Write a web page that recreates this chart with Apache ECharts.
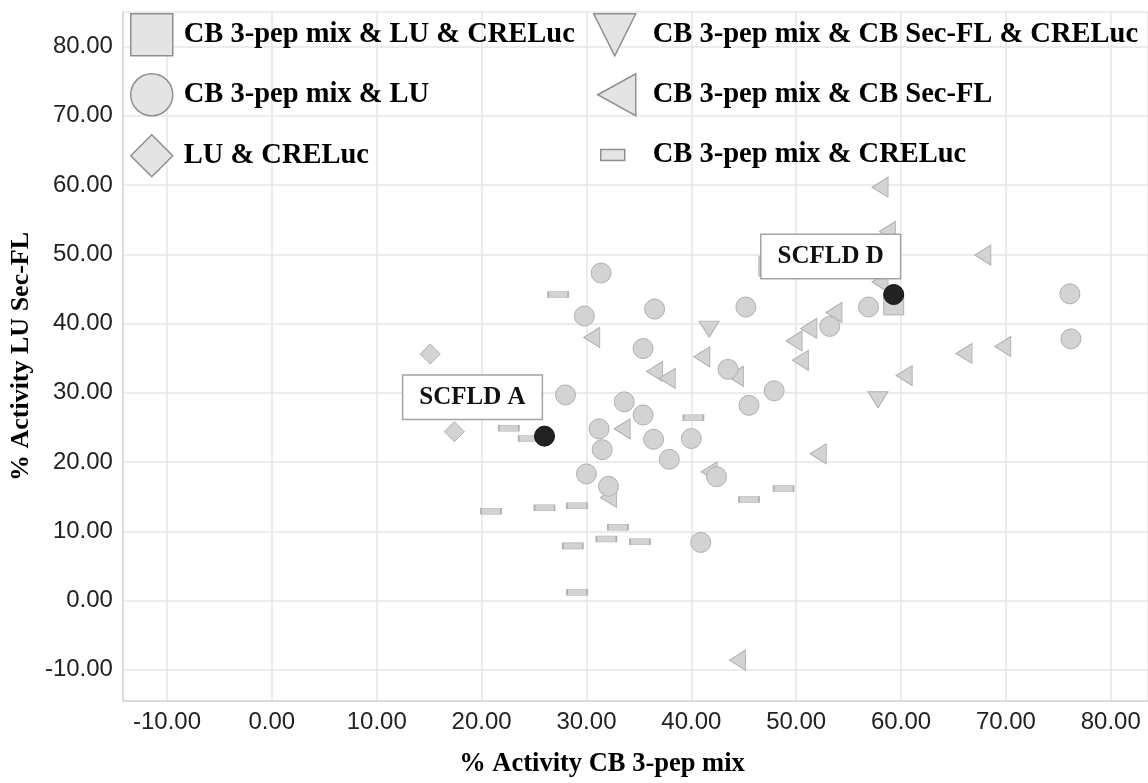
<!DOCTYPE html>
<html>
<head>
<meta charset="utf-8">
<title>SCFLD activity scatter</title>
<script src="https://cdn.jsdelivr.net/npm/echarts@6/dist/echarts.min.js"></script>
<style>
  html, body { margin: 0; padding: 0; background: #fff; }
  #chart { width: 1148px; height: 783px; }
</style>
</head>
<body>
<div id="chart"></div>
<script>
// [x, y] = [% Activity CB 3-pep mix, % Activity LU Sec-FL]
const cbLuCre = [[59.3, 42.7], [47.4, 48.3]]
const cbLu = [
  [31.4, 47.3], [29.8, 41.1], [36.5, 42.1], [45.2, 42.4], [43.5, 33.4],
  [45.5, 28.2], [47.9, 30.3], [40.0, 23.4], [42.4, 17.9], [56.9, 42.4],
  [53.2, 39.6], [76.1, 44.3], [76.2, 37.8], [28.0, 29.7], [35.4, 36.4],
  [33.6, 28.7], [35.4, 26.8], [31.2, 24.8], [36.4, 23.3], [31.5, 21.8],
  [37.9, 20.4], [30.0, 18.3], [32.1, 16.5], [40.9, 8.4]
]
const luCre = [[15.1, 35.6], [17.4, 24.4]]
const cbSecCre = [[41.7, 39.2], [57.8, 29.0]]
const cbSec = [
  [30.5, 38.0], [36.5, 33.1], [37.7, 32.1], [33.4, 24.8], [32.1, 14.9],
  [41.0, 35.2], [44.2, 32.4], [41.7, 18.6], [53.6, 41.6], [51.2, 39.3],
  [49.8, 37.5], [50.4, 34.7], [52.1, 21.2], [60.3, 32.5], [58.0, 59.7],
  [58.7, 53.3], [58.0, 46.0], [67.8, 49.9], [69.7, 36.7], [66.0, 35.7],
  [44.4, -8.6]
]
const cbCre = [
  [27.3, 44.2], [22.6, 24.9], [24.5, 23.4], [20.9, 12.9], [26.0, 13.4],
  [29.1, 13.7], [33.0, 10.6], [31.9, 8.9], [35.1, 8.5], [28.7, 7.9],
  [29.1, 1.2], [40.2, 26.4], [48.8, 16.2], [45.5, 14.6]
]
const scfldNames = ['SCFLD A', 'SCFLD D']
const scfldValues = [[26.0, 23.75], [59.3, 44.2]]
const scfldOffsets = [[-72, -39], [-63, -38]]

const serif = 'Liberation Serif'
const sans = 'Liberation Sans'
const fill = '#d3d3d3'
const edge = '#b0b0b0'

const chart = echarts.init(document.getElementById('chart'))

const markStyle = { color: fill, borderColor: edge, borderWidth: 1, opacity: 1 }

// one legend per entry so each icon can get its own size and spot
function legendFor (name, left, top, w, h, gap, icon) {
  return {
    data: [icon ? { name: name, icon: icon } : name],
    left: left,
    top: top,
    orient: 'vertical',
    padding: 0,
    itemWidth: w,
    itemHeight: h,
    selectedMode: false,
    itemStyle: { color: '#e4e4e4', borderColor: '#8f8f8f', borderWidth: 1.5, opacity: 1 },
    textStyle: {
      fontFamily: serif, fontWeight: 'bold', fontSize: 28.5, color: '#000',
      lineHeight: 42, padding: [0, 0, 0, gap]
    }
  }
}

const option = {
  animation: false,
  backgroundColor: '#fff',
  grid: { left: 121.5, right: 0, top: 12, bottom: 78 },
  legend: [
    legendFor('CB 3-pep mix & LU & CRELuc', 130, 13, 42, 42, 6),
    legendFor('CB 3-pep mix & LU', 130, 73, 42, 42, 6),
    legendFor('LU & CRELuc', 130, 134, 42, 42, 6),
    legendFor('CB 3-pep mix & CB Sec-FL & CRELuc', 593, 13, 42, 42, 12, 'path://M0,0 L40,0 L20,40 Z'),
    legendFor('CB 3-pep mix & CB Sec-FL', 597, 73, 38, 42, 12, 'path://M0,21 L38,0 L38,42 Z'),
    legendFor('CB 3-pep mix & CRELuc', 600, 134, 24, 11, 23)
  ],
  xAxis: {
    type: 'value',
    min: -14.2,
    max: 83.55,
    splitNumber: 10,
    name: '% Activity CB 3-pep mix',
    nameLocation: 'middle',
    nameGap: 50,
    nameTextStyle: {
      fontFamily: serif, fontWeight: 'bold', fontSize: 26.5, color: '#000',
      padding: [0, 67, 0, 0]
    },
    axisLine: { show: true, onZero: false, lineStyle: { color: '#d6d6d6', width: 1.5 } },
    axisTick: { show: false },
    axisLabel: {
      fontFamily: sans, fontSize: 24, color: '#222', margin: 9,
      showMinLabel: false, showMaxLabel: false,
      formatter: (v) => v.toFixed(2)
    },
    splitLine: { show: true, lineStyle: { color: '#e6e6e6', width: 1.5 } }
  },
  yAxis: {
    type: 'value',
    min: -14.5,
    max: 85,
    splitNumber: 10,
    name: '% Activity LU Sec-FL',
    nameLocation: 'middle',
    nameGap: 84,
    nameTextStyle: { fontFamily: serif, fontWeight: 'bold', fontSize: 26, color: '#000' },
    axisLine: { show: true, onZero: false, lineStyle: { color: '#d6d6d6', width: 1.5 } },
    axisTick: { show: false },
    axisLabel: {
      fontFamily: sans, fontSize: 24, color: '#222', margin: 10,
      showMinLabel: false, showMaxLabel: false,
      formatter: (v) => v.toFixed(2)
    },
    splitLine: { show: true, lineStyle: { color: '#e6e6e6', width: 1.5 } }
  },
  series: [
    {
      name: 'CB 3-pep mix & CB Sec-FL',
      type: 'scatter',
      symbol: 'triangle',
      symbolRotate: 90,
      symbolSize: [20, 16],
      itemStyle: markStyle,
      data: cbSec
    },
    {
      name: 'CB 3-pep mix & CRELuc',
      type: 'scatter',
      symbol: 'rect',
      symbolSize: [20, 6],
      itemStyle: markStyle,
      data: cbCre
    },
    {
      name: 'CB 3-pep mix & LU',
      type: 'scatter',
      symbol: 'circle',
      symbolSize: 20,
      itemStyle: markStyle,
      data: cbLu
    },
    {
      name: 'LU & CRELuc',
      type: 'scatter',
      symbol: 'diamond',
      symbolSize: 20,
      itemStyle: markStyle,
      data: luCre
    },
    {
      name: 'CB 3-pep mix & CB Sec-FL & CRELuc',
      type: 'scatter',
      symbol: 'triangle',
      symbolRotate: 180,
      symbolSize: [20, 16],
      itemStyle: markStyle,
      data: cbSecCre
    },
    {
      name: 'CB 3-pep mix & LU & CRELuc',
      type: 'scatter',
      symbol: 'rect',
      symbolSize: 20,
      itemStyle: markStyle,
      data: cbLuCre
    },
    {
      name: 'SCFLD',
      type: 'scatter',
      symbol: 'circle',
      symbolSize: 20,
      z: 5,
      itemStyle: { color: '#222', borderColor: '#111', borderWidth: 1, opacity: 1 },
      data: scfldValues.map((v, i) => ({
        name: scfldNames[i],
        value: v,
        label: { offset: scfldOffsets[i] }
      })),
      label: {
        show: true,
        position: 'inside',
        formatter: (p) => p.name,
        fontFamily: serif,
        fontWeight: 'bold',
        fontSize: 25,
        color: '#111',
        backgroundColor: '#fff',
        borderColor: '#a3a3a3',
        borderWidth: 1.5,
        padding: [10, 16, 8, 16]
      },
      labelLine: { show: true, lineStyle: { color: '#888', width: 1 } }
    }
  ]
}

chart.setOption(option)
</script>
</body>
</html>
